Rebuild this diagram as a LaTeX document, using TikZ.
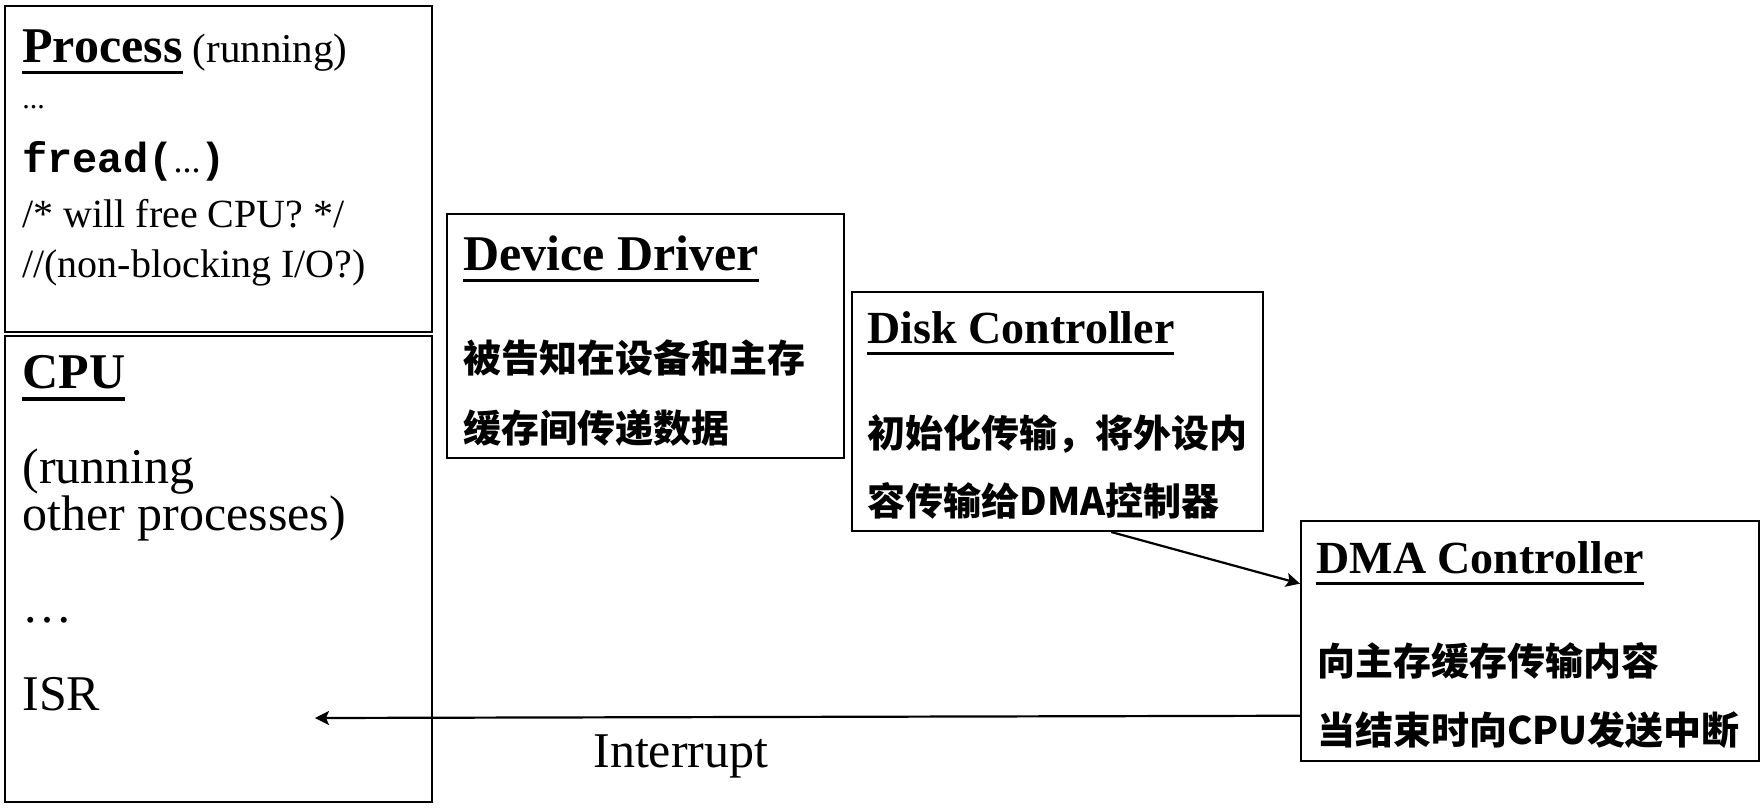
\documentclass[tikz,border=0pt]{standalone}
\usepackage{fontspec}
\setmainfont{Liberation Serif}
\setmonofont{Liberation Mono}
\newfontfamily\cjk{Noto Sans CJK SC}
\usetikzlibrary{arrows.meta}
\newcommand\ulbox[1]{\vtop{\hbox{#1}\kern4.3pt\hrule height1.7pt}}
\newcommand\cjkb{\cjk\bfseries\fontsize{19}{23}\selectfont}
\begin{document}
\begin{tikzpicture}[x=0.5pt,y=-0.5pt,
  box/.style={draw,line width=1pt,inner sep=0pt,rectangle},
  txt/.style={inner sep=0pt,anchor=base west},
  conn/.style={line width=1.1pt,-{Stealth[length=7pt,width=7pt,inset=1.5pt]}}]
\useasboundingbox (0,0) rectangle (1763,811);
% boxes
\node[box,minimum width=213.5pt,minimum height=163pt] (proc) at (218.5,169) {};
\node[box,minimum width=213.5pt,minimum height=233pt] (cpu) at (218.5,569) {};
\node[box,minimum width=198.5pt,minimum height=122pt] (dd) at (645.5,336) {};
\node[box,minimum width=205.5pt,minimum height=119.5pt] (disk) at (1057.5,411.5) {};
\node[box,minimum width=229pt,minimum height=120pt] (dma) at (1530,641) {};
% process box
\node[txt] (proctitle) at (22,62) {\ulbox{\fontsize{25}{30}\selectfont\bfseries Process}\fontsize{20.5}{24}\selectfont\ (running)};
\node[txt] (dots1) at (22,108) {\fontsize{15}{18}\selectfont ...};
\node[txt] (fread) at (22,172) {\fontsize{21}{25}\selectfont\ttfamily\bfseries fread(\rmfamily\mdseries\fontsize{18}{20}\selectfont ...\fontsize{21}{25}\selectfont\ttfamily\bfseries)};
\node[txt] (cmt1) at (22,227) {\fontsize{20}{24}\selectfont /* will free CPU? */};
\node[txt] (cmt2) at (22,277) {\fontsize{20}{24}\selectfont //(non-blocking I/O?)};
% cpu box
\node[txt] (cputitle) at (22,388) {\ulbox{\fontsize{25}{30}\selectfont\bfseries CPU}};
\node[txt] (run1) at (22,483) {\fontsize{25}{30}\selectfont (running};
\node[txt] (run2) at (22,530) {\fontsize{25}{30}\selectfont other processes)};
\node[txt] (dots2) at (22,622) {\fontsize{25}{30}\selectfont …};
\node[txt] (isr) at (22,710) {\fontsize{25}{30}\selectfont ISR};
% device driver
\node[txt] (ddtitle) at (463,270) {\ulbox{\fontsize{25}{30}\selectfont\bfseries Device Driver}};
\node[txt] (dd1) at (463,372) {\cjkb 被告知在设备和主存};
\node[txt] (dd2) at (463,442) {\cjkb 缓存间传递数据};
% disk controller
\node[txt] (dktitle) at (867,343) {\ulbox{\fontsize{23}{28}\selectfont\bfseries Disk Controller}};
\node[txt] (dk1) at (867,447) {\cjkb 初始化传输，将外设内};
\node[txt] (dk2) at (867,515) {\cjkb 容传输给DMA控制器};
% dma controller
\node[txt] (dmatitle) at (1316,573) {\ulbox{\fontsize{23}{28}\selectfont\bfseries DMA Controller}};
\node[txt] (dma1) at (1317,675) {\cjkb 向主存缓存传输内容};
\node[txt] (dma2) at (1317,744) {\cjkb 当结束时向CPU发送中断};
% connectors
\coordinate (isrtip) at (315,718);
\draw[conn] (disk.-66.3) -- (dma.166);
\draw[conn] (dma.198.6) -- (isrtip);
\node[txt] (intr) at (593,767) {\fontsize{25}{30}\selectfont Interrupt};
\end{tikzpicture}
\end{document}
